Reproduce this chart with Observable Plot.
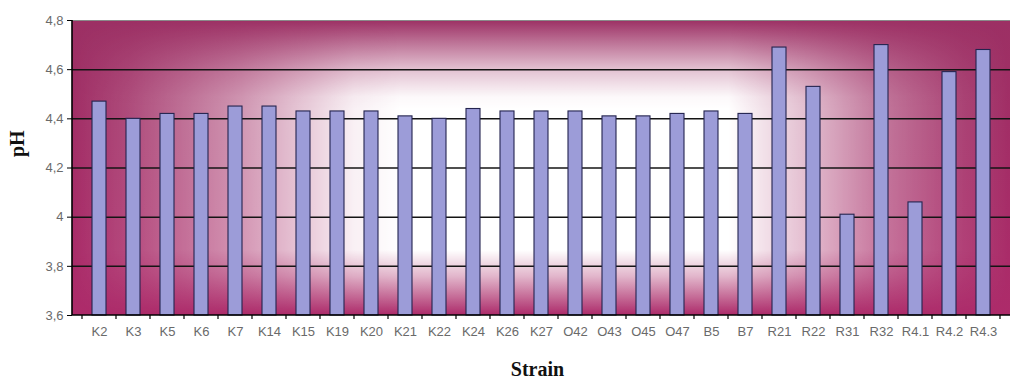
<!DOCTYPE html>
<html>
<head>
<meta charset="utf-8">
<script src="https://cdn.jsdelivr.net/npm/d3@7"></script>
<script src="https://cdn.jsdelivr.net/npm/@observablehq/plot@0.6"></script>
<style>
  html, body { margin: 0; padding: 0; background: #fff; }
</style>
</head>
<body>
<div id="chart"></div>
<script>
// Final pH reached by each strain
const strains = ["K2","K3","K5","K6","K7","K14","K15","K19","K20","K21","K22","K24","K26","K27",
                 "O42","O43","O45","O47","B5","B7","R21","R22","R31","R32","R4.1","R4.2","R4.3"];
const pH = [4.47, 4.40, 4.42, 4.42, 4.45, 4.45, 4.43, 4.43, 4.43, 4.41, 4.40, 4.44, 4.43, 4.43,
            4.43, 4.41, 4.41, 4.42, 4.43, 4.42, 4.69, 4.53, 4.01, 4.70, 4.06, 4.59, 4.68];

const yTicks = [3.6, 3.8, 4.0, 4.2, 4.4, 4.6, 4.8];
const yTickLabels = ["3,6", "3,8", "4", "4,2", "4,4", "4,6", "4,8"];

const rows = strains.map((strain, i) => ({strain, pH: pH[i]}));

// Plot-area fill: maroon edges fading to a white centre
function background(index, scales, values, dims) {
  const {marginLeft: l, marginTop: t, marginRight: r, marginBottom: b, width, height} = dims;
  const w = width - l - r, h = height - t - b;
  const g = d3.create("svg:g");
  const defs = g.append("defs");

  const base = defs.append("linearGradient").attr("id", "bg-base").attr("x2", 0).attr("y2", 1);
  [[0, "#9c3064"], [1, "#ad2b6a"]].forEach(([o, c]) =>
    base.append("stop").attr("offset", o).attr("stop-color", c));

  const hg = defs.append("linearGradient").attr("id", "bg-h");
  [[0, 0], [0.06, 0.14], [0.18, 0.5], [0.3, 0.93], [0.35, 1], [0.7, 1], [0.78, 0.7], [0.86, 0.36], [0.95, 0.1], [1, 0]]
    .forEach(([o, a]) => hg.append("stop").attr("offset", o).attr("stop-color", "#fff").attr("stop-opacity", a));

  const vg = defs.append("linearGradient").attr("id", "bg-v").attr("x2", 0).attr("y2", 1);
  [[0, 0], [0.07, 0.3], [0.166, 0.7], [0.26, 0.97], [0.3, 1], [0.78, 1], [0.87, 0.65], [0.95, 0.25], [1, 0]]
    .forEach(([o, a]) => vg.append("stop").attr("offset", o).attr("stop-color", "#fff").attr("stop-opacity", a));

  const mh = defs.append("mask").attr("id", "bg-mask-h");
  mh.append("rect").attr("x", l).attr("y", t).attr("width", w).attr("height", h).attr("fill", "url(#bg-h)");
  const mv = defs.append("mask").attr("id", "bg-mask-v");
  mv.append("rect").attr("x", l).attr("y", t).attr("width", w).attr("height", h).attr("fill", "url(#bg-v)");

  g.append("rect").attr("x", l).attr("y", t).attr("width", w).attr("height", h).attr("fill", "url(#bg-base)");
  g.append("g").attr("mask", "url(#bg-mask-v)")
    .append("rect").attr("mask", "url(#bg-mask-h)")
    .attr("x", l).attr("y", t).attr("width", w).attr("height", h).attr("fill", "#fff");
  return g.node();
}

// Axis lines and category-boundary ticks on the x axis
function axisFrame(index, scales, values, dims) {
  const {x} = scales;
  const {marginLeft: l, marginTop: t, marginRight: r, marginBottom: b, width, height} = dims;
  const y0 = height - b;
  const step = typeof x.step === "function" ? x.step() : x.bandwidth() / 0.4;
  const pad = (step - x.bandwidth()) / 2;
  const g = d3.create("svg:g").attr("stroke", "#000").attr("fill", "none");
  g.append("line").attr("x1", l).attr("x2", l).attr("y1", t).attr("y2", y0).attr("stroke-width", 1.6);
  g.append("line").attr("x1", l).attr("x2", width - r).attr("y1", y0).attr("y2", y0).attr("stroke-width", 1.6);
  const bounds = strains.map(d => x(d) - pad).concat([x(strains[strains.length - 1]) + x.bandwidth() + pad]);
  bounds.forEach(bx => g.append("line").attr("x1", bx).attr("x2", bx).attr("y1", y0).attr("y2", y0 + 4).attr("stroke-width", 1.2));
  return g.node();
}

const chart = Plot.plot({
  width: 1010,
  height: 380,
  marginLeft: 72,
  marginRight: 0,
  marginTop: 20,
  marginBottom: 65,
  style: {fontFamily: "Liberation Sans, Arial, sans-serif", fontSize: "13px", background: "#fff"},
  x: {domain: strains, paddingInner: 0.6, paddingOuter: 0.3, label: null},
  y: {domain: [3.6, 4.8], label: null},
  marks: [
    background,
    Plot.ruleY(yTicks.slice(1, -1), {stroke: "#141414", strokeWidth: 1.5}),
    Plot.ruleY([4.8], {stroke: "#8a8a8a", strokeWidth: 1.2}),
    Plot.barY(rows, {x: "strain", y1: 3.6, y2: "pH", fill: "#9c9cd8", stroke: "#24244f", strokeWidth: 1.1}),
    axisFrame,
    Plot.axisY({ticks: yTicks, tickFormat: (d, i) => yTickLabels[yTicks.indexOf(d)], tickSize: 5, tickPadding: 4,
                stroke: "#000", fill: "#6a6a6a", fontSize: 13, label: null}),
    Plot.axisX({tickSize: 0, tickPadding: 11, fill: "#6a6a6a", fontSize: 13, label: null}),
    Plot.text(["pH"], {frameAnchor: "left", dx: -55, dy: -11, rotate: -90, text: d => d,
                       fontFamily: "Liberation Serif, Times New Roman, serif", fontWeight: "bold", fontSize: 20, fill: "#111"}),
    Plot.text(["Strain"], {frameAnchor: "bottom", dx: -4, dy: 60, text: d => d,
                           fontFamily: "Liberation Serif, Times New Roman, serif", fontWeight: "bold", fontSize: 20, fill: "#111"})
  ]
});

document.getElementById("chart").appendChild(chart);
</script>
</body>
</html>
